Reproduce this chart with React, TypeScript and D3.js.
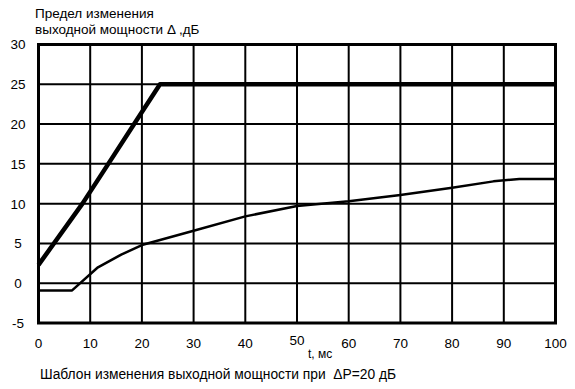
import React from 'react';
import * as d3 from 'd3';

// time, ms
const limitT = [0, 8.5, 13.5, 18.5, 23.5, 100];
const limitDb = [2.3, 10, 15, 20, 25, 25];
const powerT = [0, 6.5, 11.5, 16, 20, 30, 40, 50, 60, 70, 80, 88, 93, 100];
const powerDb = [-0.9, -0.9, 2, 3.6, 4.8, 6.6, 8.4, 9.7, 10.3, 11.1, 12, 12.8, 13.1, 13.1];
const xTicks = [0, 10, 20, 30, 40, 50, 60, 70, 80, 90, 100];
const yTicks = [-5, 0, 5, 10, 15, 20, 25, 30];

const width = 575;
const height = 389;
const font = 'Arial, "Liberation Sans", sans-serif';

export default function App() {
  const x = d3.scaleLinear().domain([0, 100]).range([38.5, 555.5]);
  const y = d3.scaleLinear().domain([-5, 30]).range([323, 44.5]);

  const limitPath = d3.line<number>()
    .x((d, i) => x(limitT[i]))
    .y(d => y(d))(limitDb);
  const powerPath = d3.line<number>()
    .x((d, i) => x(powerT[i]))
    .y(d => y(d))(powerDb);

  return (
    <svg width={width} height={height} style={{ position: 'absolute', left: 0, top: 0, background: '#fff' }}>
      <rect width={width} height={height} fill="#fff" />
      <text x={35} y={18} fontFamily={font} fontSize={13.5}>Предел изменения</text>
      <text x={35} y={34} fontFamily={font} fontSize={13.5}>выходной мощности Δ ,дБ</text>

      {xTicks.map(t => (
        <line key={'vx' + t} x1={x(t)} x2={x(t)} y1={y(30)} y2={y(-5)} stroke="#000" strokeWidth={2} />
      ))}
      {yTicks.map(t => (
        <line key={'hy' + t} x1={x(0)} x2={x(100)} y1={y(t)} y2={y(t)} stroke="#000" strokeWidth={2} />
      ))}
      <rect x={x(0)} y={y(30)} width={x(100) - x(0)} height={y(-5) - y(30)} fill="none" stroke="#000" strokeWidth={3} />

      <path d={limitPath || ''} fill="none" stroke="#000" strokeWidth={4.5} strokeLinejoin="round" />
      <path d={powerPath || ''} fill="none" stroke="#000" strokeWidth={2.5} strokeLinejoin="round" />

      {yTicks.map(t => (
        <text key={'ly' + t} x={18} y={y(t)} dy="0.36em" textAnchor="middle" fontFamily={font} fontSize={13.5}>{t}</text>
      ))}
      {xTicks.map(t => (
        <text key={'lx' + t} x={x(t)} y={t === 50 ? 345 : 348} textAnchor="middle" fontFamily={font} fontSize={13.5}>{t}</text>
      ))}
      <text x={308} y={358} fontFamily={font} fontSize={12}>t, мс</text>
      <text x={40} y={379} fontFamily={font} fontSize={13.8} style={{ whiteSpace: 'pre' }}>{'Шаблон изменения выходной мощности при  ΔP=20 дБ'}</text>
    </svg>
  );
}
